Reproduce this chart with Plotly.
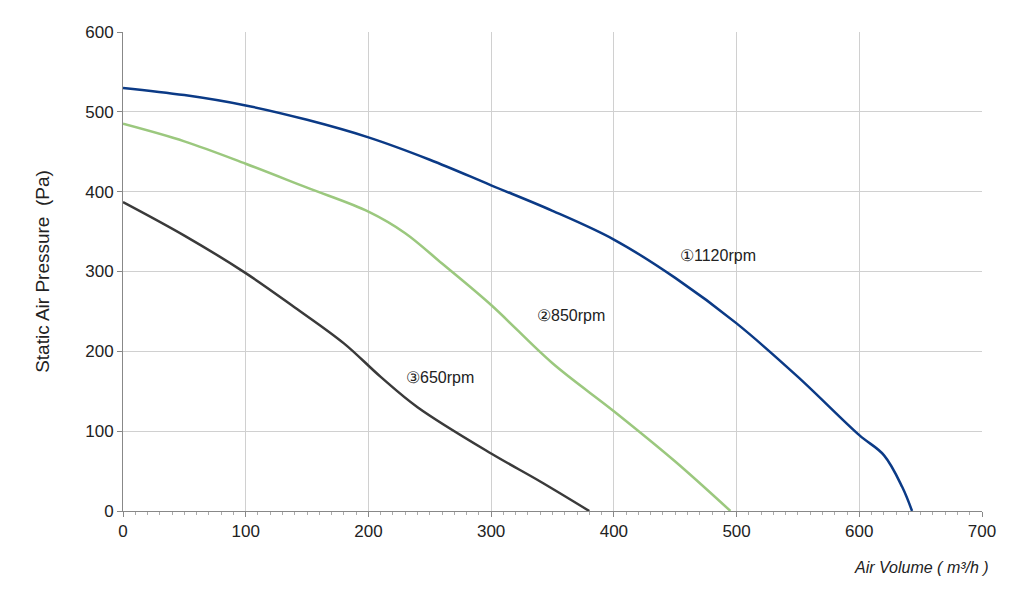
import plotly.graph_objects as go

# Fan curves
x_1120 = [0, 50, 100, 150, 200, 250, 300, 350, 400, 450, 500, 550, 600, 620, 635, 643]
y_1120 = [530, 521, 508, 490, 468, 440, 408, 376, 340, 292, 235, 168, 95, 70, 30, 0]
x_850 = [0, 50, 100, 150, 200, 230, 260, 300, 350, 400, 450, 495]
y_850 = [485, 463, 435, 405, 375, 348, 310, 258, 185, 125, 62, 0]
x_650 = [0, 50, 100, 140, 180, 210, 240, 300, 340, 380]
y_650 = [387, 345, 298, 255, 210, 168, 130, 72, 37, 0]

labels = ["①1120rpm", "②850rpm", "③650rpm"]
label_x = [485, 365, 258]
label_y = [320, 245, 167]

fig = go.Figure()
fig.add_trace(go.Scatter(x=x_1120, y=y_1120, mode='lines',
                         line=dict(color='#0b3a86', width=2.5, shape='spline')))
fig.add_trace(go.Scatter(x=x_850, y=y_850, mode='lines',
                         line=dict(color='#9bc87e', width=2.5, shape='spline')))
fig.add_trace(go.Scatter(x=x_650, y=y_650, mode='lines',
                         line=dict(color='#3a3a3a', width=2.5, shape='spline')))

for t, lx, ly in zip(labels, label_x, label_y):
    fig.add_annotation(x=lx, y=ly, text=t, showarrow=False,
                       font=dict(size=16, color='#222'))

fig.add_annotation(xref='paper', yref='paper', x=1.01, y=-0.14, text="<i>Air Volume ( m³/h )</i>",
                   showarrow=False, xanchor='right', font=dict(size=16, color='#222'))

fig.update_layout(
    width=1024, height=605,
    margin=dict(l=115, r=50, t=24, b=102),
    showlegend=False,
    plot_bgcolor='white', paper_bgcolor='white',
    font=dict(family='Liberation Sans, Arial', size=17, color='#222'),
    xaxis=dict(range=[0, 700], dtick=100, showgrid=True, gridcolor='#d0d0d0',
               zeroline=False, showline=True, linecolor='#888', ticks='outside', ticklen=5,
               tickcolor='#888', minor=dict(dtick=10, ticks='outside', ticklen=3, tickcolor='#aaa')),
    yaxis=dict(range=[0, 600], dtick=100, showgrid=True, gridcolor='#d0d0d0',
               zeroline=False, showline=True, linecolor='#888', ticks='outside', ticklen=5,
               tickcolor='#888', title=dict(text='Static Air Pressure  (Pa)', font=dict(size=19),
                                            standoff=30)),
)

fig.write_html("out.html")
